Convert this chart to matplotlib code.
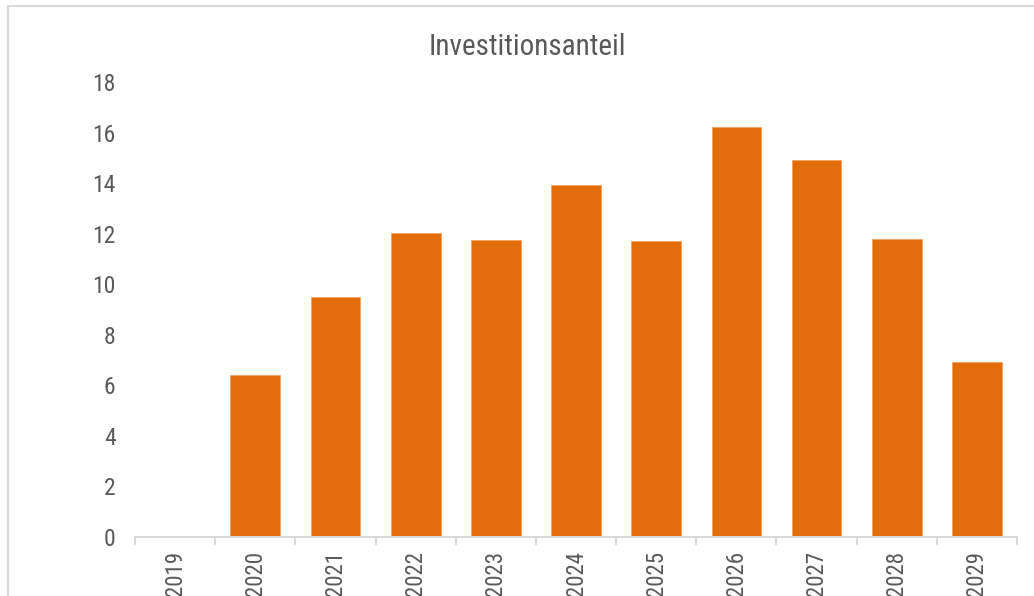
import matplotlib
import matplotlib.pyplot as plt
from matplotlib.patches import Rectangle
import numpy as np

years = ["2019", "2020", "2021", "2022", "2023", "2024",
         "2025", "2026", "2027", "2028", "2029"]
values = [0.0, 6.41, 9.49, 12.03, 11.75, 13.92, 11.71, 16.22, 14.91, 11.79, 6.92]
yticks = [0, 2, 4, 6, 8, 10, 12, 14, 16, 18]

bar_color = "#E36C0A"
text_color = "#595959"
line_color = "#D9D9D9"

matplotlib.rcParams["font.family"] = ["Roboto Condensed", "Liberation Sans Narrow",
                                      "Liberation Sans", "DejaVu Sans"]

fig = plt.figure(figsize=(10.34, 5.96), dpi=100)
ax = fig.add_axes([0.1306, 0.0990, 0.8530, 0.7634])

x = np.arange(len(years))
ax.bar(x, values, width=0.62, color=bar_color, edgecolor="#F0A060", linewidth=0.6, zorder=2)

ax.set_xlim(-0.5, len(years) - 0.5)
ax.set_ylim(0, 18)
ax.set_yticks(yticks)
ax.set_yticklabels([str(t) for t in yticks])

ax.set_xticks(x)
ax.set_xticklabels(years, rotation=90)
ax.set_xticks(np.arange(len(years) + 1) - 0.5, minor=True)

for s in ["top", "right", "left"]:
    ax.spines[s].set_visible(False)
ax.spines["bottom"].set_color(line_color)
ax.spines["bottom"].set_linewidth(1.5)

ax.tick_params(axis="y", length=0, pad=14, labelsize=17, labelcolor=text_color)
ax.tick_params(axis="x", which="major", length=0, pad=10, labelsize=16.5, labelcolor=text_color)
ax.tick_params(axis="x", which="minor", length=6, width=1.5, color=line_color)

fig.text(527 / 1034, 1 - 47 / 596, "Investitionsanteil", ha="center", va="center",
         fontsize=21, color=text_color)

# chart border
fig.patches.append(Rectangle((8 / 1034, -0.1), 1.2, 1.1 - 6 / 596, transform=fig.transFigure,
                             fill=False, edgecolor=line_color, linewidth=1.5))

fig.savefig("out.png", dpi=100)
